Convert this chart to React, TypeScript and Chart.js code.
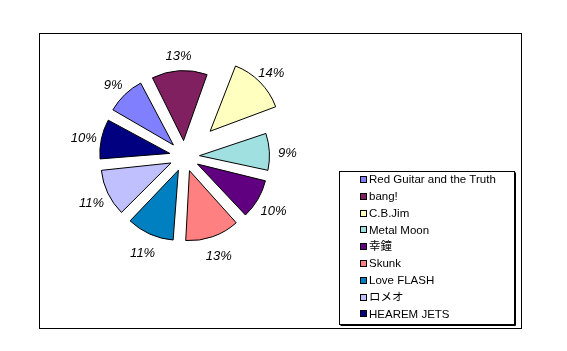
import React, { useEffect, useRef } from "react";
import { Chart, registerables } from "chart.js";

Chart.register(...registerables);

const categories = [
  "Red Guitar and the Truth",
  "bang!",
  "C.B.Jim",
  "Metal Moon",
  "幸鐘",
  "Skunk",
  "Love FLASH",
  "ロメオ",
  "HEAREM JETS",
];
// shares (%); labels show them rounded
const shares = [9.4, 13.1, 14.0, 9.0, 9.6, 12.8, 11.3, 11.2, 9.6];
const sliceColors = [
  "#8080FF",
  "#802060",
  "#FFFFC0",
  "#A0E0E0",
  "#600080",
  "#FF8080",
  "#0080C0",
  "#C0C0FF",
  "#000080",
];

const PIE_RADIUS = 70;
const BASE_SHIFT = 15;
const LABEL_DIST = 103;
const FONT = "'Liberation Sans', Arial, 'Noto Sans CJK JP', sans-serif";

// keep every exploded slice at the same outer radius (Chart.js grows offset slices)
const equalRadiusPlugin = {
  id: "equalRadius",
  afterDatasetUpdate(chart: any, args: any) {
    const meta = chart.getDatasetMeta(args.index);
    meta.data.forEach((arc: any) => {
      const off = ((arc.options && arc.options.offset) || 0) / 4;
      const circ = arc.endAngle - arc.startAngle;
      const fix = 1 - Math.sin(Math.min(Math.PI, circ));
      arc.outerRadius = PIE_RADIUS - off * fix;
    });
  },
};

const pctLabelPlugin = {
  id: "pctLabels",
  afterDatasetsDraw(chart: any) {
    const ctx = chart.ctx;
    const meta = chart.getDatasetMeta(0);
    const data = chart.data.datasets[0].data as number[];
    const total = data.reduce((a, b) => a + b, 0);
    ctx.save();
    ctx.font = `italic 13px ${FONT}`;
    ctx.fillStyle = "#000";
    ctx.textAlign = "center";
    ctx.textBaseline = "middle";
    meta.data.forEach((arc: any, i: number) => {
      const mid = (arc.startAngle + arc.endAngle) / 2;
      const shift = (arc.options.offset || 0) / 4;
      const d = LABEL_DIST + Math.max(0, shift - BASE_SHIFT - 2);
      const txt = Math.round((data[i] / total) * 100) + "%";
      ctx.fillText(txt, arc.x + Math.cos(mid) * d, arc.y + Math.sin(mid) * d + 3);
    });
    ctx.restore();
  },
};

const frameLegendPlugin = {
  id: "frameLegend",
  beforeDraw(chart: any) {
    const ctx = chart.ctx;
    ctx.save();
    ctx.fillStyle = "#fff";
    ctx.fillRect(0, 0, chart.width, chart.height);
    ctx.restore();
  },
  afterDraw(chart: any) {
    const ctx = chart.ctx;
    ctx.save();
    // outer frame
    ctx.strokeStyle = "#000";
    ctx.lineWidth = 1;
    ctx.strokeRect(39.5, 33.5, 482, 295);
    // legend box with shadow
    const lx = 339.5, ly = 171.5, lw = 175, lh = 153;
    ctx.fillStyle = "#fff";
    ctx.fillRect(lx, ly, lw, lh);
    ctx.strokeRect(lx, ly, lw, lh);
    ctx.beginPath();
    ctx.moveTo(lx + lw + 1, ly + 1);
    ctx.lineTo(lx + lw + 1, ly + lh + 1);
    ctx.lineTo(lx + 1, ly + lh + 1);
    ctx.stroke();
    // items
    const labels = chart.data.labels as string[];
    const colors = chart.data.datasets[0].backgroundColor as string[];
    ctx.font = `11.5px ${FONT}`;
    ctx.textBaseline = "middle";
    ctx.textAlign = "left";
    const step = 16.8;
    labels.forEach((lab, i) => {
      const cy = 179.5 + i * step;
      const bx = 360.5, by = Math.round(cy - 3.5) + 0.5;
      ctx.fillStyle = colors[i];
      ctx.fillRect(bx, by, 6, 6);
      ctx.strokeStyle = "#000";
      ctx.strokeRect(bx, by, 6, 6);
      ctx.fillStyle = "#000";
      ctx.fillText(lab, 369, cy + 0.5);
    });
    ctx.restore();
  },
};

export default function App() {
  const canvasRef = useRef<HTMLCanvasElement | null>(null);

  useEffect(() => {
    if (!canvasRef.current) return;
    const chart = new Chart(canvasRef.current, {
      type: "pie",
      data: {
        labels: categories,
        datasets: [
          {
            data: shares,
            backgroundColor: sliceColors,
            borderColor: "#000",
            borderWidth: 1,
            offset: [64, 64, 144, 60, 60, 60, 60, 60, 60],
            radius: PIE_RADIUS,
          } as any,
        ],
      },
      options: {
        responsive: false,
        animation: false,
        events: [],
        rotation: -60.8,
        layout: { padding: { left: 40, right: 238, top: 40, bottom: 78 } },
        plugins: {
          legend: { display: false },
          tooltip: { enabled: false },
        },
      },
      plugins: [equalRadiusPlugin, pctLabelPlugin, frameLegendPlugin],
    });
    return () => chart.destroy();
  }, []);

  return (
    <div
      style={{
        position: "fixed",
        left: 0,
        top: 0,
        width: 567,
        height: 351,
        background: "#fff",
      }}
    >
      <canvas ref={canvasRef} width={567} height={351} style={{ display: "block" }} />
    </div>
  );
}
